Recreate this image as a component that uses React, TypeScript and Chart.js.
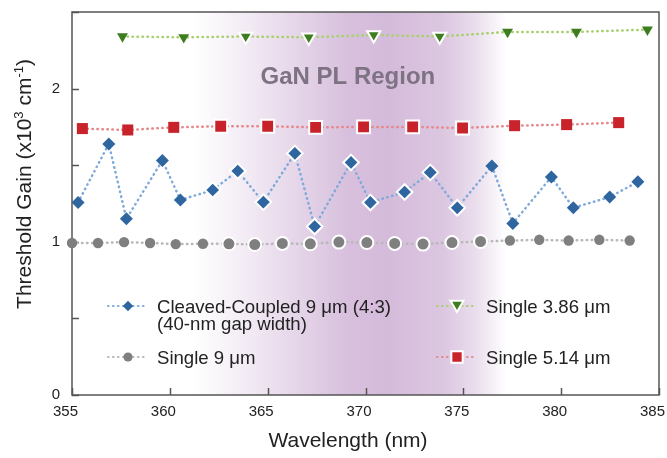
import React, { useEffect, useRef } from 'react';
import { Chart, registerables } from 'chart.js';

Chart.register(...registerables);

const FONT = "'Liberation Sans', Arial, Helvetica, sans-serif";

// ---- axes ----
const X_MIN = 355;
const X_MAX = 385;
const X_STEP = 5;
const Y_MIN = 0;
const Y_MAX = 2.5;
const Y_STEP = 0.5;

const X_TITLE = 'Wavelength (nm)';
// y title pieces: [text, isSuperscript]
const Y_TITLE_PARTS: [string, boolean][] = [
  ['Threshold Gain (x10', false],
  ['3', true],
  [' cm', false],
  ['-1', true],
  [')', false],
];

const ANNOT_TEXT = 'GaN PL Region';
const ANNOT_X = 369.1;
const ANNOT_Y = 2.03;

// ---- band (nm) ----
const BAND_START = 361.2;
const BAND_END = 377.2;
const WHITE_FROM = 361.9;
const WHITE_TO = 376.2;

// ---- series ----
const cleavedLabel = ['Cleaved-Coupled 9 \u03bcm (4:3)', '(40-nm gap width)'];
const cleavedWl = [355.31, 356.88, 357.78, 359.62, 360.54, 362.19, 363.47, 364.78, 366.39, 367.4, 369.26, 370.25, 372.0, 373.31, 374.69, 376.46, 377.53, 379.5, 380.62, 382.48, 383.92];
const cleavedGain = [1.257, 1.639, 1.15, 1.531, 1.273, 1.338, 1.462, 1.259, 1.577, 1.1, 1.518, 1.257, 1.325, 1.453, 1.222, 1.495, 1.12, 1.423, 1.222, 1.292, 1.392];

const single9Label = ['Single 9 \u03bcm'];
const single9Wl = [355.0, 356.33, 357.66, 358.99, 360.3, 361.69, 363.02, 364.34, 365.75, 367.18, 368.64, 370.07, 371.49, 372.94, 374.42, 375.88, 377.38, 378.88, 380.38, 381.95, 383.5];
const single9Gain = [0.992, 0.992, 0.998, 0.992, 0.985, 0.987, 0.987, 0.982, 0.989, 0.987, 0.998, 0.995, 0.989, 0.985, 0.995, 1.002, 1.008, 1.013, 1.008, 1.013, 1.008];

const single386Label = ['Single 3.86 \u03bcm'];
const single386Wl = [357.58, 360.71, 363.88, 367.1, 370.42, 373.79, 377.26, 380.78, 384.41];
const single386Gain = [2.34, 2.335, 2.34, 2.335, 2.35, 2.34, 2.37, 2.37, 2.385];

const single514Label = ['Single 5.14 \u03bcm'];
const single514Wl = [355.53, 357.85, 360.2, 362.6, 365.0, 367.45, 369.9, 372.41, 374.96, 377.62, 380.28, 382.94];
const single514Gain = [1.739, 1.73, 1.747, 1.754, 1.754, 1.747, 1.75, 1.75, 1.743, 1.758, 1.765, 1.778];

const inBand = (v: any) => typeof v === 'number' && v >= WHITE_FROM && v <= WHITE_TO;

type Style = 'rectRot' | 'circle' | 'triangle' | 'rect';

function makeSeries(label: string[], wl: number[], gain: number[], marker: string, line: string, style: Style, radius: number) {
  return {
    label: label.join(' '),
    legendLines: label,
    markerColor: marker,
    markerStyle: style,
    data: wl.map((x, i) => ({ x, y: gain[i] })),
    borderColor: line,
    backgroundColor: marker,
    borderWidth: 2.5,
    borderDash: [0.5, 4.5],
    borderCapStyle: 'round',
    tension: 0,
    fill: false,
    clip: false,
    pointStyle: style,
    pointRotation: style === 'triangle' ? 180 : 0,
    pointRadius: (c: any) => (inBand(c.raw && c.raw.x) ? radius + 1.3 : radius),
    pointBackgroundColor: marker,
    pointBorderColor: (c: any) => (inBand(c.raw && c.raw.x) ? '#ffffff' : marker),
    pointBorderWidth: (c: any) => (inBand(c.raw && c.raw.x) ? 2 : 0),
  };
}

function drawMarker(ctx: CanvasRenderingContext2D, style: Style, x: number, y: number, r: number, fill: string, stroke: string, sw: number) {
  ctx.beginPath();
  if (style === 'circle') {
    ctx.arc(x, y, r, 0, Math.PI * 2);
  } else if (style === 'rectRot') {
    ctx.moveTo(x, y - r);
    ctx.lineTo(x + r, y);
    ctx.lineTo(x, y + r);
    ctx.lineTo(x - r, y);
    ctx.closePath();
  } else if (style === 'rect') {
    const h = r * Math.SQRT1_2;
    ctx.rect(x - h, y - h, 2 * h, 2 * h);
  } else {
    const s = r * Math.sin(Math.PI / 3);
    ctx.moveTo(x, y + r);
    ctx.lineTo(x - s, y - r / 2);
    ctx.lineTo(x + s, y - r / 2);
    ctx.closePath();
  }
  ctx.fillStyle = fill;
  ctx.fill();
  if (sw > 0) {
    ctx.lineWidth = sw;
    ctx.strokeStyle = stroke;
    ctx.stroke();
  }
}

const decorPlugin = {
  id: 'decor',
  beforeDatasetsDraw(chart: any) {
    const { ctx, chartArea: a, scales } = chart;
    const xs = scales.x;
    const ys = scales.y;
    ctx.save();
    // purple band
    const x0 = xs.getPixelForValue(BAND_START);
    const x1 = xs.getPixelForValue(BAND_END);
    const g = ctx.createLinearGradient(x0, 0, x1, 0);
    const rgb = '205,175,212';
    g.addColorStop(0, `rgba(${rgb},0)`);
    g.addColorStop(0.15, `rgba(${rgb},0.22)`);
    g.addColorStop(0.35, `rgba(${rgb},0.55)`);
    g.addColorStop(0.5, `rgba(${rgb},0.8)`);
    g.addColorStop(0.62, `rgba(${rgb},0.85)`);
    g.addColorStop(0.8, `rgba(${rgb},0.7)`);
    g.addColorStop(0.9, `rgba(${rgb},0.42)`);
    g.addColorStop(1, `rgba(${rgb},0)`);
    ctx.fillStyle = g;
    ctx.fillRect(x0, a.top, x1 - x0, a.bottom - a.top);

    // annotation
    ctx.font = `bold 24px ${FONT}`;
    ctx.fillStyle = '#7d7383';
    ctx.textAlign = 'center';
    ctx.textBaseline = 'alphabetic';
    ctx.fillText(ANNOT_TEXT, xs.getPixelForValue(ANNOT_X), ys.getPixelForValue(ANNOT_Y));

    // frame
    ctx.strokeStyle = '#555555';
    ctx.lineWidth = 1.5;
    ctx.strokeRect(a.left, a.top, a.right - a.left, a.bottom - a.top);

    // inward ticks
    ctx.beginPath();
    ys.ticks.forEach((t: any) => {
      const py = Math.round(ys.getPixelForValue(t.value)) + 0.5;
      ctx.moveTo(a.left, py);
      ctx.lineTo(a.left + 7, py);
    });
    xs.ticks.forEach((t: any) => {
      const px = Math.round(xs.getPixelForValue(t.value)) + 0.5;
      ctx.moveTo(px, a.bottom);
      ctx.lineTo(px, a.bottom - 7);
    });
    ctx.stroke();
    ctx.restore();
  },
  afterDatasetsDraw(chart: any) {
    const { ctx, chartArea: a } = chart;
    const ds = chart.data.datasets;
    // legend: [datasetIndex, markerX, rowY]
    const items: [number, number, number][] = [
      [0, a.left + 56, a.top + 294],
      [1, a.left + 56, a.top + 345],
      [2, a.left + 385, a.top + 294],
      [3, a.left + 385, a.top + 345],
    ];
    ctx.save();
    items.forEach(([i, mx, my]) => {
      const d = ds[i];
      // dotted line
      ctx.beginPath();
      ctx.setLineDash([0.5, 4.5]);
      ctx.lineCap = 'round';
      ctx.lineWidth = 2.2;
      ctx.strokeStyle = d.borderColor;
      ctx.moveTo(mx - 20, my);
      ctx.lineTo(mx + 16, my);
      ctx.stroke();
      ctx.setLineDash([]);
      const white = d.markerStyle === 'triangle' || d.markerStyle === 'rect';
      const r = d.markerStyle === 'rect' ? 8 : d.markerStyle === 'triangle' ? 7.5 : d.markerStyle === 'circle' ? 4.6 : 5.2;
      drawMarker(ctx, d.markerStyle, mx, my + (d.markerStyle === 'triangle' ? -1.5 : 0), r, d.markerColor, '#ffffff', white ? 2 : 0);
      ctx.font = `18.6px ${FONT}`;
      ctx.fillStyle = '#222222';
      ctx.textAlign = 'left';
      ctx.textBaseline = 'alphabetic';
      d.legendLines.forEach((ln: string, k: number) => {
        ctx.fillText(ln, mx + 29, my + 6.5 + k * 17);
      });
    });

    // axis titles
    ctx.fillStyle = '#222222';
    ctx.font = `21px ${FONT}`;
    ctx.textAlign = 'center';
    ctx.textBaseline = 'middle';
    ctx.fillText(X_TITLE, 348, 441);

    ctx.translate(25.5, 184);
    ctx.rotate(-Math.PI / 2);
    const big = `21px ${FONT}`;
    const small = `13px ${FONT}`;
    let total = 0;
    Y_TITLE_PARTS.forEach(([t, sup]) => {
      ctx.font = sup ? small : big;
      total += ctx.measureText(t).width;
    });
    let cx = -total / 2;
    ctx.textAlign = 'left';
    Y_TITLE_PARTS.forEach(([t, sup]) => {
      ctx.font = sup ? small : big;
      ctx.fillText(t, cx, sup ? -6.5 : 0);
      cx += ctx.measureText(t).width;
    });
    ctx.restore();
  },
};

export default function App() {
  const ref = useRef<HTMLCanvasElement>(null);
  useEffect(() => {
    document.body.style.margin = '0';
    Chart.defaults.font.family = FONT;
    Chart.defaults.color = '#222222';
    const datasets: any[] = [
      makeSeries(cleavedLabel, cleavedWl, cleavedGain, '#2f66a0', '#7fa9da', 'rectRot', 6.5),
      makeSeries(single9Label, single9Wl, single9Gain, '#7f7f7f', '#b8b8b8', 'circle', 5.2),
      makeSeries(single386Label, single386Wl, single386Gain, '#3e7d1f', '#abd072', 'triangle', 6.3),
      makeSeries(single514Label, single514Wl, single514Gain, '#c8232b', '#e68a8c', 'rect', 7.8),
    ];
    const chart = new Chart(ref.current as HTMLCanvasElement, {
      type: 'line',
      data: { datasets },
      plugins: [decorPlugin],
      options: {
        animation: false,
        responsive: false,
        layout: { padding: { top: 12, right: 8, left: 0, bottom: 0 } },
        plugins: { legend: { display: false }, tooltip: { enabled: false } },
        scales: {
          x: {
            type: 'linear',
            min: X_MIN,
            max: X_MAX,
            ticks: { stepSize: X_STEP, font: { size: 15 }, color: '#222222', padding: 8, labelOffset: -6.5, maxRotation: 0, autoSkip: false },
            grid: { display: false, drawTicks: false },
            border: { display: false },
            afterFit: (s: any) => {
              s.height = 63;
              s.paddingLeft = 0;
              s.paddingRight = 0;
            },
          },
          y: {
            type: 'linear',
            min: Y_MIN,
            max: Y_MAX,
            ticks: {
              stepSize: Y_STEP,
              font: { size: 15 },
              color: '#222222',
              padding: 12,
              callback: (v: any) => (Number.isInteger(v) ? String(v) : ''),
            },
            grid: { display: false, drawTicks: false },
            border: { display: false },
            afterFit: (s: any) => {
              s.width = 72;
              s.paddingTop = 0;
              s.paddingBottom = 0;
            },
          },
        },
      } as any,
    });
    return () => chart.destroy();
  }, []);
  return (
    <div style={{ width: 667, height: 458 }}>
      <canvas ref={ref} width={667} height={458} style={{ display: 'block', width: 667, height: 458 }} />
    </div>
  );
}
